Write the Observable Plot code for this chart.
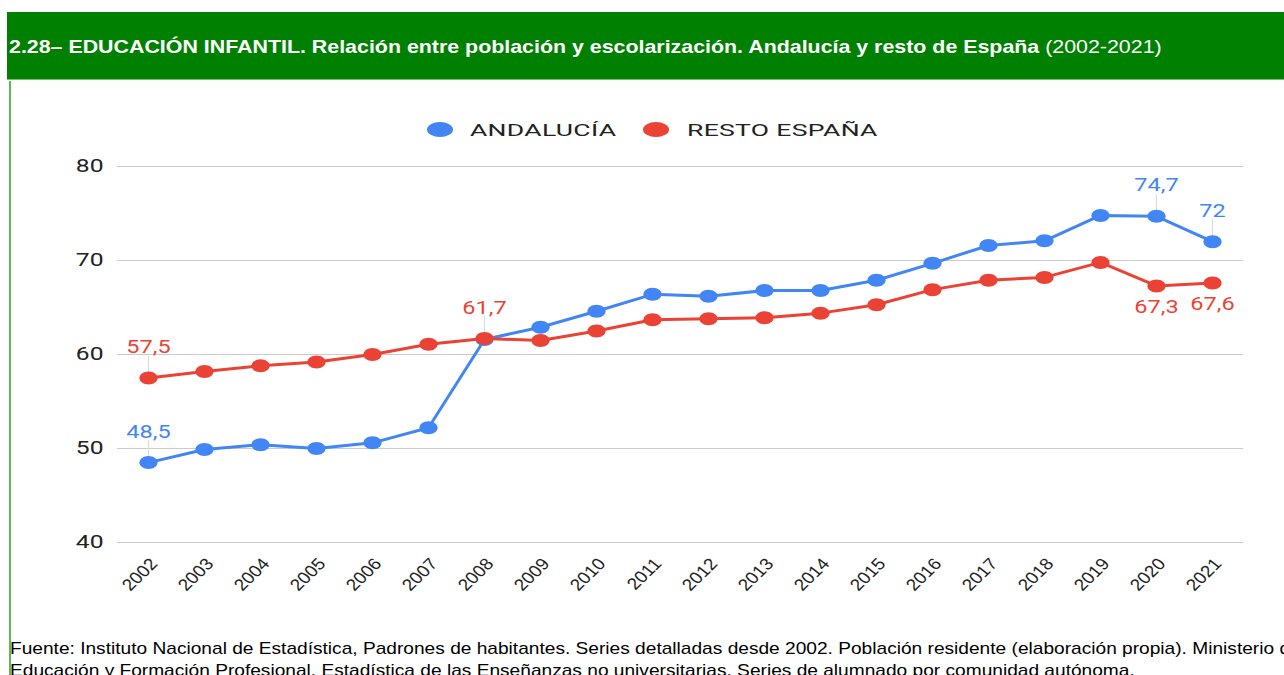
<!DOCTYPE html>
<html>
<head>
<meta charset="utf-8">
<script src="https://cdn.jsdelivr.net/npm/d3@7"></script>
<script src="https://cdn.jsdelivr.net/npm/@observablehq/plot@0.6"></script>
<style>
  html, body { margin: 0; padding: 0; background: #fff; width: 1284px; height: 675px; overflow: hidden; position: relative; }
  #banner { position: absolute; left: 7px; top: 12px; width: 1277px; height: 68px; background: #008000; border-bottom: 1px solid #6fbf6f; box-sizing: border-box; }
  #banner div { position: absolute; left: 2px; top: 24px; font-family: "Liberation Sans", Arial, sans-serif; font-size: 19px; color: #fff; white-space: nowrap; line-height: 22px; transform: scaleX(1.125); transform-origin: left center; }
  #banner b { font-weight: bold; }
  #leftline { position: absolute; left: 9px; top: 81px; width: 2px; height: 600px; background: #5cb85c; }
  #legend { position: absolute; top: 120px; left: 0; height: 20px; width: 1284px; font-family: Roboto, sans-serif; font-size: 17px; color: #222; }
  .sw { position: absolute; top: 2px; width: 26px; height: 15px; border-radius: 50%; }
  .lt { position: absolute; top: 0px; line-height: 20px; transform: scaleX(1.56); transform-origin: left center; white-space: nowrap; letter-spacing: 0.2px; }
  #chart { position: absolute; left: 0; top: 90px; }
  #footer { position: absolute; left: 10px; top: 638px; font-family: "Liberation Sans", Arial, sans-serif; font-size: 17px; line-height: 22px; color: #000; white-space: nowrap; transform: scaleX(1.125); transform-origin: left top; }
</style>
</head>
<body>
<div id="banner"><div><b>2.28– EDUCACIÓN INFANTIL. Relación entre población y escolarización. Andalucía y resto de España</b> (2002-2021)</div></div>
<div id="leftline"></div>
<div id="legend"></div>
<div id="chart"></div>
<div id="footer">Fuente: Instituto Nacional de Estadística, Padrones de habitantes. Series detalladas desde 2002. Población residente (elaboración propia). Ministerio de<br>Educación y Formación Profesional. Estadística de las Enseñanzas no universitarias. Series de alumnado por comunidad autónoma.</div>
<script>
// ---- data ----
const years = [2002, 2003, 2004, 2005, 2006, 2007, 2008, 2009, 2010, 2011, 2012, 2013, 2014, 2015, 2016, 2017, 2018, 2019, 2020, 2021];
const andalucia = [48.5, 49.9, 50.4, 50.0, 50.6, 52.2, 61.6, 62.9, 64.6, 66.4, 66.2, 66.8, 66.8, 67.9, 69.7, 71.6, 72.1, 74.8, 74.7, 72.0];
const restoEspana = [57.5, 58.2, 58.8, 59.2, 60.0, 61.1, 61.7, 61.5, 62.5, 63.7, 63.8, 63.9, 64.4, 65.3, 66.9, 67.9, 68.2, 69.8, 67.3, 67.6];
const seriesNames = ["ANDALUCÍA", "RESTO ESPAÑA"];
const seriesColors = ["#4285F4", "#EA4335"];
const yTicks = [40, 50, 60, 70, 80];
const labelAboveAndalucia = [2002, 2020, 2021];
const labelAboveResto = [2002, 2008];
const labelBelowResto = [2020, 2021];

// ---- table ----
const rows = [
  ...years.map((year, i) => ({year, value: andalucia[i], series: seriesNames[0]})),
  ...years.map((year, i) => ({year, value: restoEspana[i], series: seriesNames[1]}))
];
const above = rows.filter(d => (d.series === seriesNames[0] && labelAboveAndalucia.includes(d.year)) || (d.series === seriesNames[1] && labelAboveResto.includes(d.year)));
const below = rows.filter(d => d.series === seriesNames[1] && labelBelowResto.includes(d.year));
const fmt = v => String(v).replace(".", ",");

// ellipse marker (the chart is horizontally stretched)
const ellipse = {
  draw(context, size) {
    const r = Math.sqrt(size / Math.PI), rx = r * 1.4, ry = r, k = 0.5523;
    context.moveTo(rx, 0);
    context.bezierCurveTo(rx, ry * k, rx * k, ry, 0, ry);
    context.bezierCurveTo(-rx * k, ry, -rx, ry * k, -rx, 0);
    context.bezierCurveTo(-rx, -ry * k, -rx * k, -ry, 0, -ry);
    context.bezierCurveTo(rx * k, -ry, rx, -ry * k, rx, 0);
    context.closePath();
  }
};

const chart = Plot.plot({
  width: 1284,
  height: 540,
  marginLeft: 117,
  marginRight: 41,
  marginTop: 76,
  marginBottom: 88,
  style: {fontFamily: "Roboto, sans-serif", background: "transparent", color: "#222", overflow: "visible"},
  x: {type: "point", domain: years, padding: 0.5, label: null},
  y: {domain: [40, 80], label: null},
  color: {domain: seriesNames, range: seriesColors},
  marks: [
    Plot.gridY(yTicks, {stroke: "#cccccc", strokeOpacity: 1}),
    Plot.axisY({ticks: yTicks, tickSize: 0, tickPadding: 14, dy: 5, fontSize: 17, fill: "#222", label: null}),
    Plot.axisX({tickSize: 0, tickRotate: -48, tickPadding: 22, dx: 10, fontSize: 16.5, fontFamily: "Liberation Sans, Arial, sans-serif", fill: "#222", label: null, tickFormat: d => `${d}`}),
    Plot.vector(above, {x: "year", y: "value", length: 22, rotate: 0, anchor: "start", r: 0, stroke: "#dddddd", strokeWidth: 1.2}),
    Plot.line(rows, {x: "year", y: "value", z: "series", stroke: "series", strokeWidth: 3}),
    Plot.dot(rows, {x: "year", y: "value", fill: "series", r: 6.5, symbol: ellipse, stroke: null}),
    Plot.text(above, {x: "year", y: "value", text: d => fmt(d.value), fill: "series", dy: -25, fontSize: 16, lineAnchor: "middle"}),
    Plot.text(below, {x: "year", y: "value", text: d => fmt(d.value), fill: "series", dy: 27, fontSize: 16, lineAnchor: "middle"})
  ]
});

function stretch(root, selector, sx, sy) {
  root.querySelectorAll(selector).forEach(el => {
    let t = el.getAttribute("transform") || "";
    const x = el.getAttribute("x"), y = el.getAttribute("y");
    if (x != null || y != null) {
      t = t + ` translate(${+x || 0},${+y || 0})`;
      el.removeAttribute("x"); el.removeAttribute("y");
    }
    if (/rotate\(/.test(t)) t = t.replace(/rotate\(/, `scale(${sx},${sy}) rotate(`);
    else t = t + ` scale(${sx},${sy})`;
    el.setAttribute("transform", t.trim());
  });
}
stretch(chart, 'g[aria-label="y-axis tick label"] text', 1.45, 1.05);
stretch(chart, 'g[aria-label="x-axis tick label"] text', 1.15, 1);
stretch(chart, 'g[aria-label="text"] text', 1.47, 1.1);
document.getElementById("chart").appendChild(chart);

// legend
const legend = d3.select("#legend");
const swLeft = [427, 643], txtLeft = [470, 687];
seriesNames.forEach((name, i) => {
  legend.append("span").attr("class", "sw").style("left", swLeft[i] + "px").style("background", seriesColors[i]);
  legend.append("span").attr("class", "lt").style("left", txtLeft[i] + "px").text(name);
});
</script>
</body>
</html>
